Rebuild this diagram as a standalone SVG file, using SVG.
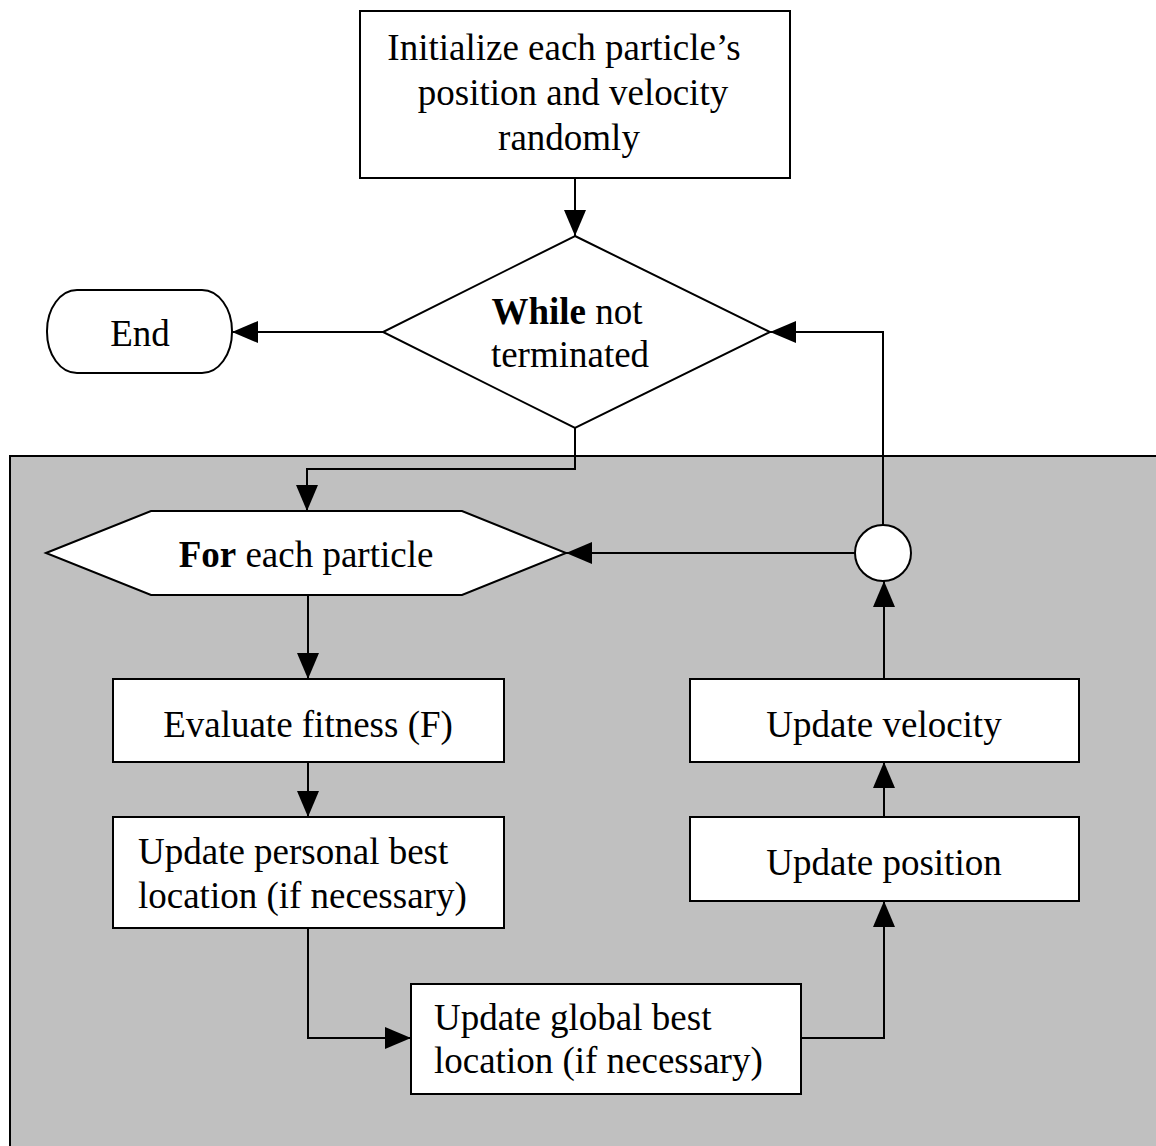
<svg xmlns="http://www.w3.org/2000/svg" width="1156" height="1146" viewBox="0 0 1156 1146">
<defs>
<style>
.s{fill:#fff;stroke:#000;stroke-width:2}
.c{fill:none;stroke:#000;stroke-width:2}
text{font-family:"Liberation Serif","Times New Roman",serif;font-size:37px;fill:#000}
.m{text-anchor:middle}
</style>
<marker id="a" markerUnits="userSpaceOnUse" markerWidth="26" markerHeight="22" refX="26" refY="11" orient="auto">
<path d="M0,0 L26,11 L0,22 z" fill="#000"/>
</marker>
</defs>
<rect x="0" y="0" width="1156" height="1146" fill="#fff"/>
<g id="loop-region"><rect x="10" y="456" width="1160" height="700" fill="#c0c0c0" stroke="#000" stroke-width="2"/></g>
<g id="init"><rect class="s" x="360" y="11" width="430" height="167"/>
<text class="m" x="564" y="60">Initialize each particle’s</text>
<text class="m" x="573" y="105">position and velocity</text>
<text class="m" x="569" y="150">randomly</text></g>
<g id="while"><polygon class="s" points="575,236 770,332 575,428 383,332"/>
<text class="m" x="567" y="324"><tspan font-weight="bold">While</tspan> not</text>
<text class="m" x="570" y="367">terminated</text></g>
<g id="end"><rect class="s" x="47" y="290" width="185" height="83" rx="30" ry="41"/>
<text class="m" x="140" y="346">End</text></g>
<g id="for"><polygon class="s" points="46,553 151,511 462,511 566,553 462,595 151,595"/>
<text class="m" x="306" y="567"><tspan font-weight="bold">For</tspan> each particle</text></g>
<g id="junction"><circle class="s" cx="883" cy="553" r="28"/></g>
<g id="evaluate"><rect class="s" x="113" y="679" width="391" height="83"/>
<text class="m" x="308" y="737">Evaluate fitness (F)</text></g>
<g id="personal"><rect class="s" x="113" y="817" width="391" height="111"/>
<text x="138" y="864">Update personal best</text>
<text x="138" y="908">location (if necessary)</text></g>
<g id="global"><rect class="s" x="411" y="984" width="390" height="110"/>
<text x="434" y="1030">Update global best</text>
<text x="434" y="1073">location (if necessary)</text></g>
<g id="position"><rect class="s" x="690" y="817" width="389" height="84"/>
<text class="m" x="884" y="875">Update position</text></g>
<g id="velocity"><rect class="s" x="690" y="679" width="389" height="83"/>
<text class="m" x="884" y="737">Update velocity</text></g>
<g id="connectors">
<path class="c" d="M575,178 V236" marker-end="url(#a)"/>
<path class="c" d="M383,332 H232" marker-end="url(#a)"/>
<path class="c" d="M575,428 V469 H307 V511" marker-end="url(#a)"/>
<path class="c" d="M855,553 H566" marker-end="url(#a)"/>
<path class="c" d="M883,525 V332 H770" marker-end="url(#a)"/>
<path class="c" d="M308,595 V679" marker-end="url(#a)"/>
<path class="c" d="M308,762 V817" marker-end="url(#a)"/>
<path class="c" d="M308,928 V1038 H411" marker-end="url(#a)"/>
<path class="c" d="M801,1038 H884 V901" marker-end="url(#a)"/>
<path class="c" d="M884,817 V762" marker-end="url(#a)"/>
<path class="c" d="M884,679 V581" marker-end="url(#a)"/>
</g>
</svg>
